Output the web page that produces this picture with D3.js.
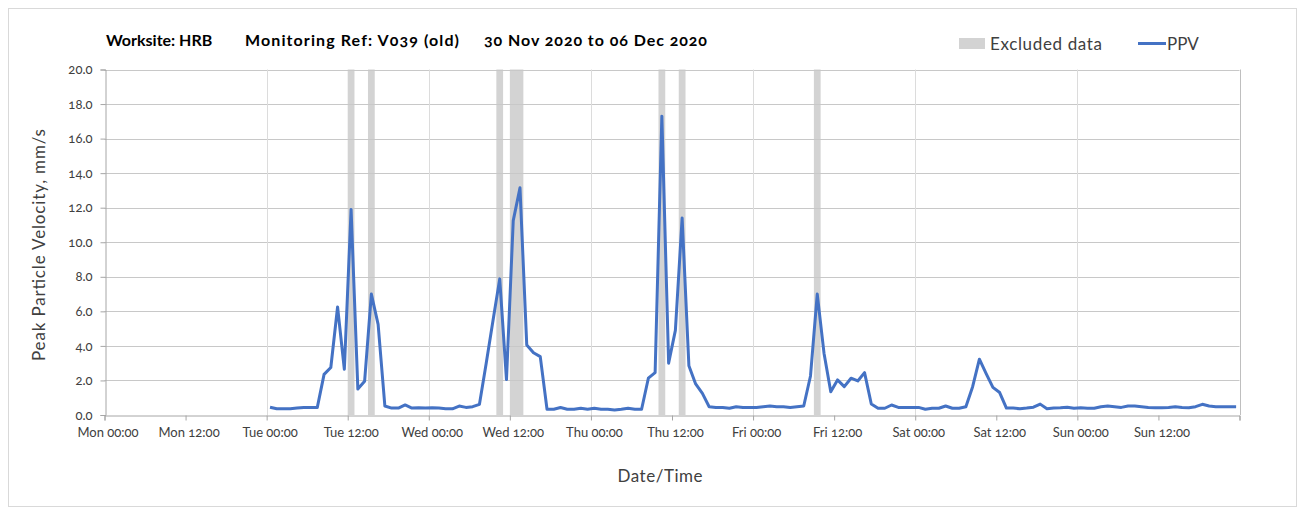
<!DOCTYPE html>
<html>
<head>
<meta charset="utf-8">
<script src="https://cdn.jsdelivr.net/npm/d3@7"></script>
<style>
  body { margin: 0; background: #fff; }
  svg { font-family: Lato, "Open Sans", sans-serif; font-feature-settings: "onum"; }
</style>
</head>
<body>
<svg id="chart" width="1306" height="513"></svg>
<script>
// --- data ---
const titleParts = ["Worksite: HRB", "Monitoring Ref: V039 (old)", "30 Nov 2020 to 06 Dec 2020"];
const firstReading = "2020-12-01T00:30"; // hourly readings from here on

const ppvValues = [
  // Tue
  0.45, 0.36, 0.36, 0.36, 0.40, 0.44, 0.44, 0.44, 2.35, 2.75, 6.25, 2.65,
  11.9, 1.50, 1.95, 7.00, 5.25, 0.52, 0.40, 0.40, 0.58, 0.40, 0.42, 0.40,
  // Wed
  0.42, 0.40, 0.36, 0.36, 0.52, 0.44, 0.48, 0.62, 3.00, 5.45, 7.88, 2.05,
  11.25, 13.15, 4.05, 3.60, 3.38, 0.33, 0.33, 0.43, 0.33, 0.33, 0.39, 0.33,
  // Thu
  0.39, 0.33, 0.33, 0.29, 0.33, 0.39, 0.33, 0.33, 2.13, 2.45, 17.3, 3.00,
  4.90, 11.4, 2.85, 1.80, 1.25, 0.48, 0.44, 0.44, 0.39, 0.48, 0.44, 0.44,
  // Fri
  0.44, 0.48, 0.52, 0.48, 0.48, 0.44, 0.48, 0.52, 2.26, 7.00, 3.58, 1.35,
  2.03, 1.64, 2.13, 1.97, 2.45, 0.64, 0.39, 0.39, 0.58, 0.44, 0.44, 0.44,
  // Sat
  0.44, 0.33, 0.39, 0.39, 0.52, 0.39, 0.39, 0.48, 1.64, 3.23, 2.40, 1.60,
  1.30, 0.40, 0.40, 0.36, 0.40, 0.45, 0.63, 0.36, 0.40, 0.42, 0.45, 0.39,
  // Sun
  0.42, 0.39, 0.39, 0.48, 0.52, 0.48, 0.44, 0.52, 0.52, 0.48, 0.44, 0.42,
  0.42, 0.44, 0.48, 0.44, 0.42, 0.48, 0.62, 0.52, 0.48, 0.48, 0.48, 0.48
];

const excludedFrom = ["2020-12-01T12:00", "2020-12-01T15:00", "2020-12-02T10:00", "2020-12-02T12:00",
                      "2020-12-03T10:00", "2020-12-03T13:00", "2020-12-04T09:00"];
const excludedTo   = ["2020-12-01T13:00", "2020-12-01T16:00", "2020-12-02T11:00", "2020-12-02T14:00",
                      "2020-12-03T11:00", "2020-12-03T14:00", "2020-12-04T10:00"];

const xStart = "2020-11-30T00:00";
const xEnd = "2020-12-07T00:00";
const yTicks = [0, 2, 4, 6, 8, 10, 12, 14, 16, 18, 20];

// --- setup ---
const parse = d3.timeParse("%Y-%m-%dT%H:%M");
const t0 = parse(firstReading);
const readings = ppvValues.map((v, i) => ({ t: d3.timeHour.offset(t0, i), v }));
const bands = excludedFrom.map((f, i) => ({ from: parse(f), to: parse(excludedTo[i]) }));

const svg = d3.select("#chart");
const textCol = "#404040";

svg.append("rect")
  .attr("x", 8.5).attr("y", 8.5)
  .attr("width", 1288).attr("height", 498)
  .attr("fill", "#fff").attr("stroke", "#d9d9d9");

const x = d3.scaleTime()
  .domain([parse(xStart), parse(xEnd)])
  .range([104.5, 1239.5]);

const y = d3.scaleLinear()
  .domain([0, 20])
  .range([415, 69.5]);

// excluded bands
svg.append("g")
  .selectAll("rect")
  .data(bands)
  .enter()
  .append("rect")
  .attr("x", d => x(d.from))
  .attr("width", d => x(d.to) - x(d.from))
  .attr("y", y(20))
  .attr("height", y(0) - y(20))
  .attr("fill", "#d3d3d3");

// gridlines
svg.append("g")
  .selectAll("line")
  .data(yTicks.slice(1))
  .enter()
  .append("line")
  .attr("x1", x.range()[0]).attr("x2", x.range()[1])
  .attr("y1", d => Math.round(y(d)) + 0.5).attr("y2", d => Math.round(y(d)) + 0.5)
  .attr("stroke", "#c8c8c8");

const days = d3.timeDay.range(d3.timeDay.offset(parse(xStart), 1), parse(xEnd));
svg.append("g")
  .selectAll("line")
  .data(days.concat([parse(xEnd)]))
  .enter()
  .append("line")
  .attr("x1", d => Math.round(x(d)) + 0.5).attr("x2", d => Math.round(x(d)) + 0.5)
  .attr("y1", y(0)).attr("y2", y(20))
  .attr("stroke", (d, i) => i === days.length ? "#bfbfbf" : "#dcdcdc");

// axes
const halfDays = d3.timeHour.every(12).range(parse(xStart), d3.timeHour.offset(parse(xEnd), 1));
const xAxis = svg.append("g")
  .attr("transform", `translate(0, ${Math.round(y(0)) + 0.5})`)
  .call(d3.axisBottom(x)
    .tickValues(halfDays)
    .tickSize(5)
    .tickFormat((d, i) => i === halfDays.length - 1 ? "" : d3.timeFormat("%a %H:%M")(d)));

const yAxis = svg.append("g")
  .attr("transform", `translate(${Math.round(x.range()[0]) + 0.5}, 0)`)
  .call(d3.axisLeft(y).tickValues(yTicks).tickSize(5).tickFormat(d3.format(".1f")));

[xAxis, yAxis].forEach(a => {
  a.select(".domain").attr("stroke", "#a6a6a6");
  a.selectAll(".tick line").attr("stroke", "#a6a6a6");
  a.selectAll(".tick text")
    .attr("fill", textCol)
    .style("font-family", "Lato, sans-serif")
    .style("font-size", "13px");
});
xAxis.selectAll(".tick text").attr("dy", "1.05em").attr("dx", 3);
yAxis.selectAll(".tick text").attr("dx", -5);

// PPV line
const line = d3.line()
  .x(d => x(d.t))
  .y(d => y(d.v));

svg.append("path")
  .datum(readings)
  .attr("fill", "none")
  .attr("stroke", "#4472c4")
  .attr("stroke-width", 3)
  .attr("stroke-linejoin", "round")
  .attr("d", line);

// title
const titleX = [106, 245, 484];
const titleW = [null, 214, 223];
svg.append("g")
  .selectAll("text")
  .data(titleParts)
  .enter()
  .append("text")
  .attr("x", (d, i) => titleX[i])
  .attr("y", 46)
  .attr("font-size", 16)
  .attr("font-weight", "bold")
  .attr("fill", "#000")
  .attr("textLength", (d, i) => titleW[i])
  .attr("lengthAdjust", "spacing")
  .text(d => d);

// legend
svg.append("rect")
  .attr("x", 959).attr("y", 38)
  .attr("width", 26).attr("height", 11)
  .attr("fill", "#d3d3d3");
svg.append("text")
  .attr("x", 990).attr("y", 50)
  .attr("font-size", 17)
  .attr("fill", textCol)
  .attr("textLength", 112)
  .attr("lengthAdjust", "spacing")
  .text("Excluded data");
svg.append("line")
  .attr("x1", 1138).attr("x2", 1166)
  .attr("y1", 43.5).attr("y2", 43.5)
  .attr("stroke", "#4472c4")
  .attr("stroke-width", 3);
svg.append("text")
  .attr("x", 1167).attr("y", 50)
  .attr("font-size", 17)
  .attr("fill", textCol)
  .text("PPV");

// axis titles
svg.append("text")
  .attr("transform", "translate(45, 245) rotate(-90)")
  .attr("text-anchor", "middle")
  .attr("font-size", 17)
  .attr("fill", textCol)
  .attr("textLength", 232)
  .attr("lengthAdjust", "spacing")
  .text("Peak Particle Velocity, mm/s");

svg.append("text")
  .attr("x", 660).attr("y", 482)
  .attr("text-anchor", "middle")
  .attr("font-size", 17)
  .attr("fill", textCol)
  .attr("textLength", 85)
  .attr("lengthAdjust", "spacing")
  .text("Date/Time");
</script>
</body>
</html>
